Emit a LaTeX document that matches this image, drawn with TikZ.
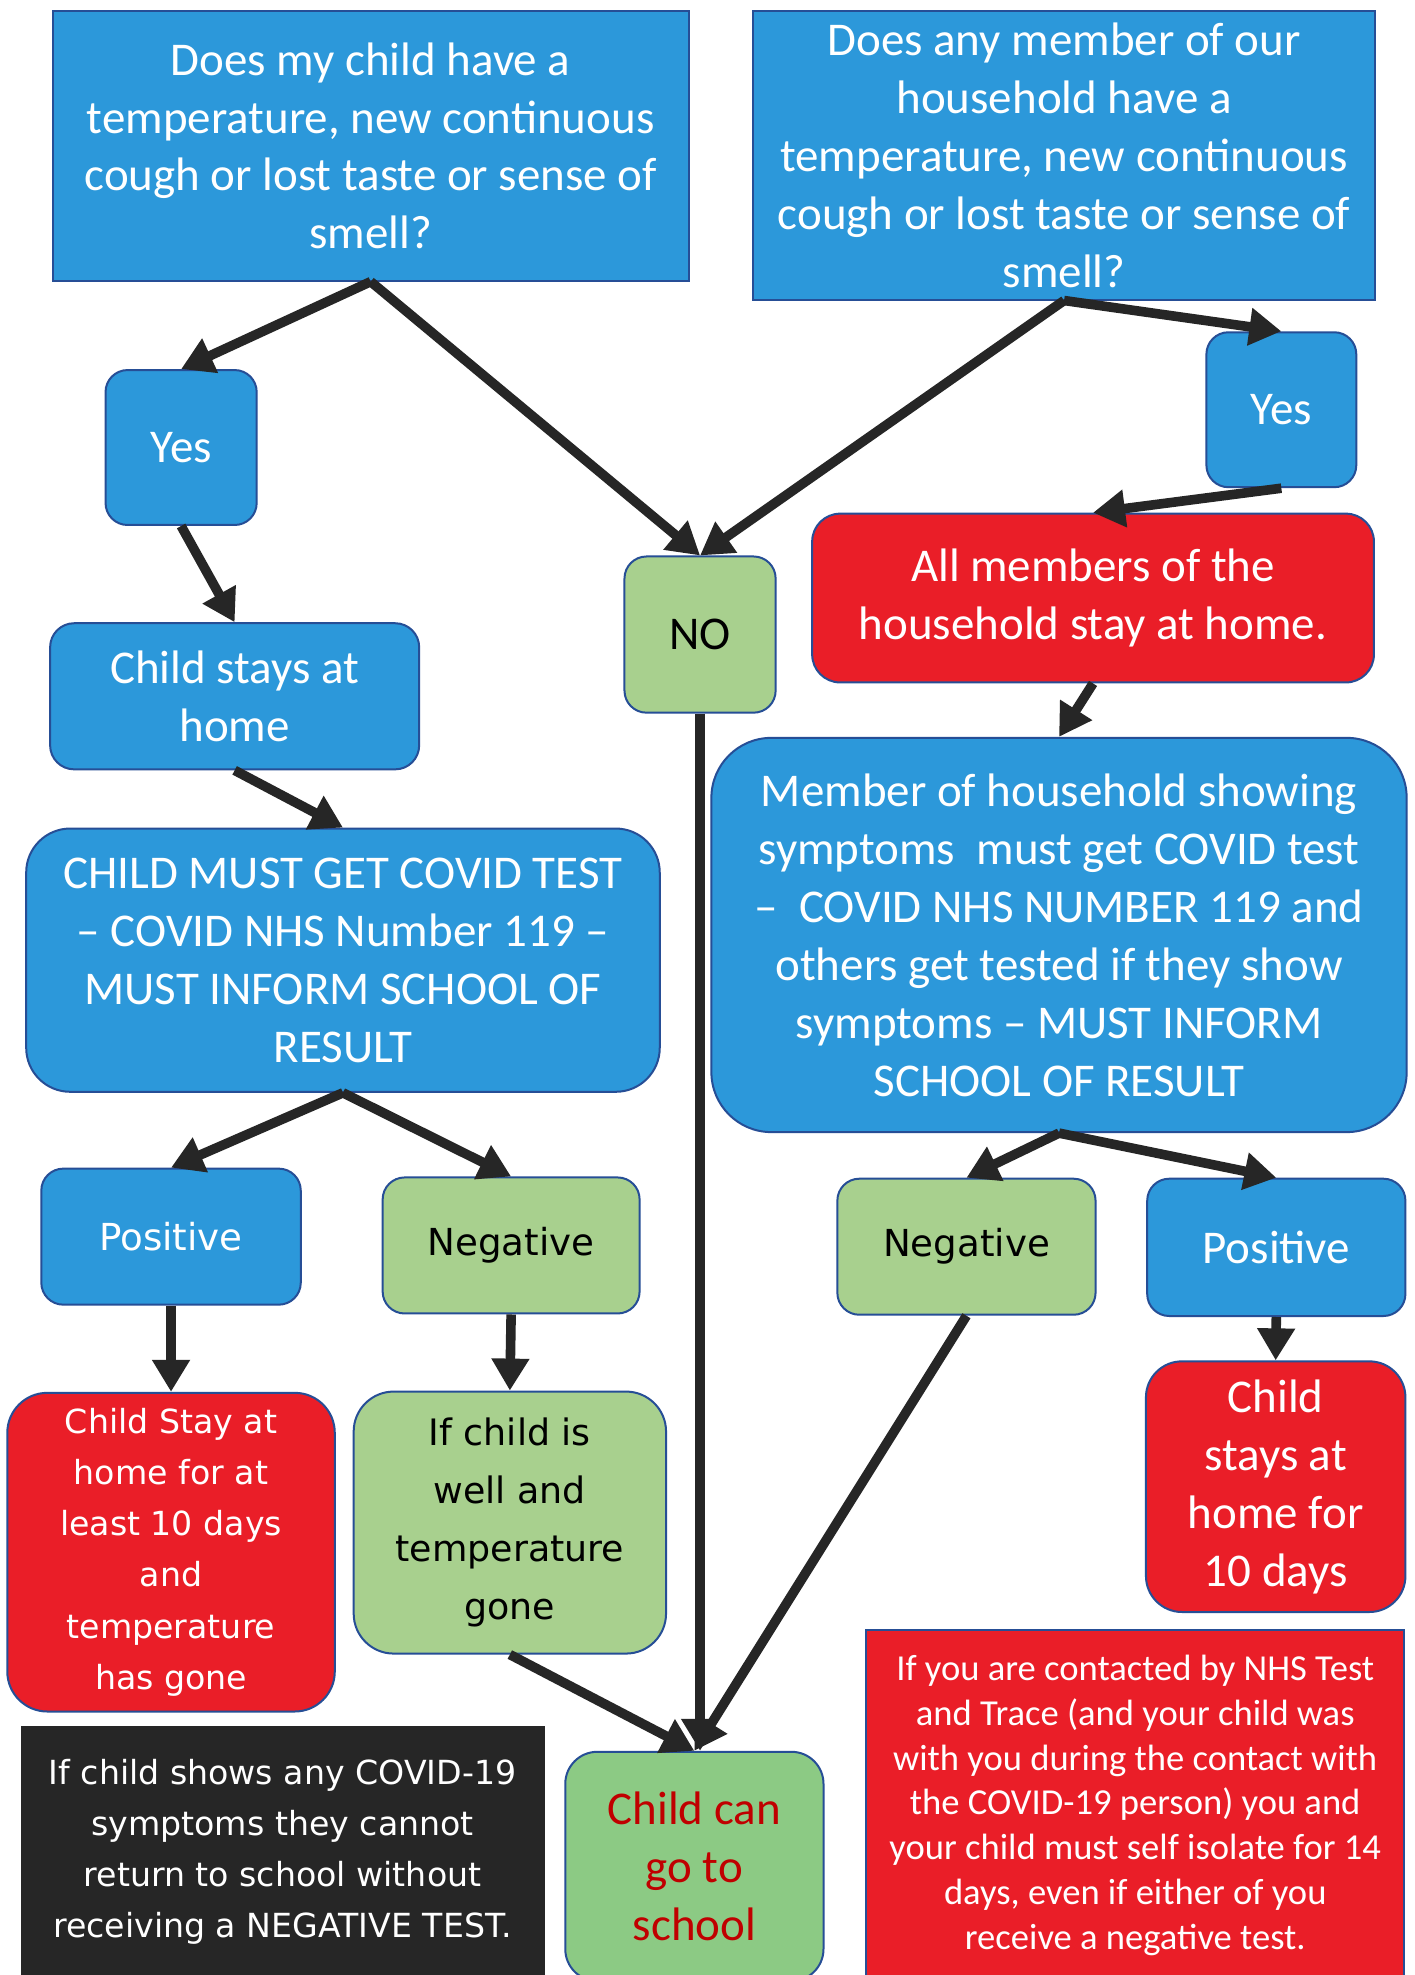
\documentclass[tikz,border=0pt]{standalone}
\usepackage{fontspec}
\setmainfont{Carlito}
\newfontfamily\vfont{DejaVu Sans}
\usetikzlibrary{arrows.meta}
\definecolor{bfill}{RGB}{44,152,218}
\definecolor{bline}{RGB}{38,78,150}
\definecolor{rfill}{RGB}{234,30,40}
\definecolor{gfill}{RGB}{168,208,142}
\definecolor{gfilltwo}{RGB}{140,202,132}
\definecolor{afill}{RGB}{38,38,38}
\definecolor{dred}{RGB}{192,0,0}
\newcommand\mkbox[7]{%
  \pgfmathsetmacro\bxw{(#5-#3)*0.63}%
  \pgfmathsetmacro\bxh{(#6-#4)*0.63}%
  \pgfmathsetmacro\bxt{(#5-#3-12)*0.63}%
  \node[#2, anchor=north west, inner sep=0pt, align=flush center,
        minimum width=\bxw pt, minimum height=\bxh pt, text width=\bxt pt] (#1) at (#3,#4) {#7};}
\tikzset{
  boxbase/.style={draw=bline, line width=1pt},
  bluebox/.style={boxbase, fill=bfill, text=white},
  redbox/.style={boxbase, fill=rfill, text=white},
  greenbox/.style={boxbase, fill=gfill, text=black},
  rnd/.style={rounded corners=#1},
  cal/.style={font=\fontsize{23.5}{29}\selectfont},
  calsmall/.style={font=\fontsize{18.3}{22.4}\selectfont},
  ver/.style={font=\vfont\fontsize{18.6}{29}\selectfont},
  vertight/.style={font=\vfont\fontsize{16.6}{25.6}\selectfont},
  arr/.style={draw=afill, line width=4.8pt, -{Triangle[width=18pt,length=16pt]}}
}
\begin{document}
\begin{tikzpicture}[x=0.63pt,y=-0.63pt]
\path[fill=white] (0,0) rectangle (1123,1568);
\useasboundingbox (0,0) rectangle (1123,1568);

% top questions
\mkbox{qa}{bluebox,cal}{41}{8}{546}{222}{Does my child have a\\ temperature, new continuous\\ cough or lost taste or sense of\\ smell?}
\mkbox{qb}{bluebox,cal}{597}{8}{1091}{237}{Does any member of our\\ household have a\\ temperature, new continuous\\ cough or lost taste or sense of\\ smell?}

\mkbox{yesa}{bluebox,cal,rnd=11pt}{83}{293}{203}{416}{Yes}
\mkbox{yesb}{bluebox,cal,rnd=11pt}{957}{263}{1076}{386}{Yes}
\mkbox{no}{greenbox,cal,rnd=11pt}{495}{441}{615}{565}{NO}
\mkbox{allm}{redbox,cal,rnd=14pt}{644}{407}{1090}{541}{All members of the\\ household stay at home.}

\mkbox{cs}{bluebox,cal,rnd=12pt}{39}{494}{332}{610}{Child stays at\\ home}
\mkbox{cm}{bluebox,cal,rnd=22pt}{20}{657}{523}{866}{CHILD MUST GET COVID TEST\\ – COVID NHS Number 119 –\\ MUST INFORM SCHOOL OF\\ RESULT}
\mkbox{mem}{bluebox,cal,rnd=30pt}{564}{585}{1116}{898}{Member of household showing\\ symptoms\ \ must get COVID test\\ –\ \ COVID NHS NUMBER 119 and\\ others get tested if they show\\ symptoms – MUST INFORM\\ SCHOOL OF RESULT}

\mkbox{posa}{bluebox,ver,rnd=11pt}{32}{927}{238}{1035}{Positive}
\mkbox{nega}{greenbox,ver,rnd=11pt}{303}{934}{507}{1042}{Negative}
\mkbox{negb}{greenbox,ver,rnd=11pt}{664}{935}{869}{1043}{Negative}
\mkbox{posb}{bluebox,cal,rnd=11pt}{910}{935}{1115}{1044}{Positive}

\mkbox{stayten}{redbox,vertight,rnd=20pt}{5}{1105}{265}{1358}{Child Stay at\\ home for at\\ least 10 days\\ and\\ temperature\\ has gone}
\mkbox{well}{greenbox,rnd=20pt,font=\vfont\fontsize{18.2}{29}\selectfont}{280}{1104}{528}{1312}{If child is\\ well and\\ temperature\\ gone}
\mkbox{hometen}{redbox,cal,rnd=18pt}{909}{1080}{1115}{1279}{Child\\ stays at\\ home for\\ 10 days}

\mkbox{blk}{fill=afill,text=white,vertight}{16}{1370}{432}{1570}{If child shows any COVID-19\\ symptoms they cannot\\ return to school without\\ receiving a NEGATIVE TEST.}
\mkbox{can}{boxbase,fill=gfilltwo,text=dred,cal,rnd=16pt}{448}{1390}{653}{1572}{Child can\\ go to\\ school}
\mkbox{trace}{redbox,calsmall}{687}{1293}{1114}{1572}{If you are contacted by NHS Test\\ and Trace (and your child was\\ with you during the contact with\\ the COVID-19 person) you and\\ your child must self isolate for 14\\ days, even if either of you\\ receive a negative test.}

% connectors
\draw[arr] (qa.south) -- (yesa.north);
\draw[arr] (qa.south) -- (no.north);
\draw[arr] (qb.south) -- (no.north);
\draw[arr] (qb.south) -- (yesb.north);
\draw[arr] (yesb.south) -- (allm.north);
\draw[arr] (allm.south) -- (mem.north);
\draw[arr] (yesa.south) -- (cs.north);
\draw[arr] (cs.south) -- (cm.north);
\draw[arr] (cm.south) -- (posa.north);
\draw[arr] (cm.south) -- (nega.north);
\draw[arr] (posa.south) -- (stayten.north);
\draw[arr] (nega.south) -- (well.north);
\draw[arr] (no.south) -- (no.south |- can.north);
\draw[arr] (well.south) -- (can.north);
\draw[arr] (negb.south) -- (can.north);
\draw[arr] (mem.south) -- (negb.north);
\draw[arr] (mem.south) -- (posb.north);
\draw[arr] (posb.south) -- (hometen.north);
\end{tikzpicture}
\end{document}
